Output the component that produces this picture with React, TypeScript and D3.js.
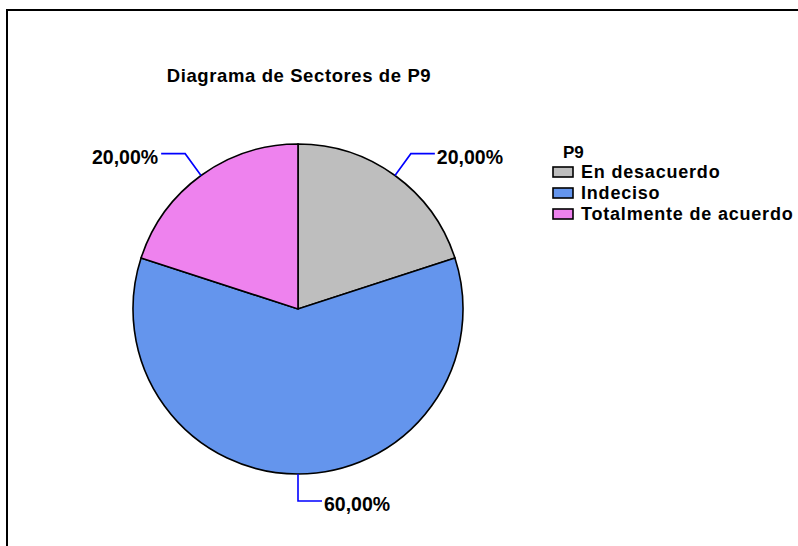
import React from "react";
import * as d3 from "d3";

const categories = ["En desacuerdo", "Indeciso", "Totalmente de acuerdo"];
const values = [20, 60, 20];
const colors = ["#bebebe", "#6495ed", "#ee82ee"];
const title = "Diagrama de Sectores de P9";
const legendTitle = "P9";

const W = 798;
const H = 546;

export default function App() {
  const cx = 298;
  const cy = 309;
  const r = 165;
  const total = d3.sum(values);
  const pie = d3.pie<number>().sort(null).value((d) => d);
  const arcs = pie(values);
  const arcGen = d3.arc<d3.PieArcDatum<number>>().innerRadius(0).outerRadius(r);
  const fmt = (v: number) => d3.format(".2f")((v / total) * 100).replace(".", ",") + "%";
  const font = "Arial, 'Liberation Sans', Helvetica, sans-serif";

  return (
    <svg
      width={W}
      height={H}
      style={{ position: "absolute", left: 0, top: 0 }}
      fontFamily={font}
    >
      <rect x={0} y={0} width={W} height={H} fill="#fff" />
      <rect x={7} y={10} width={W + 20} height={H + 20} fill="none" stroke="#000" strokeWidth={2} />
      <text x={299} y={82} textAnchor="middle" fontWeight="bold" fontSize={18.5} letterSpacing={0.6}>
        {title}
      </text>
      <g transform={`translate(${cx},${cy})`}>
        {arcs.map((a, i) => (
          <path key={i} d={arcGen(a) || ""} fill={colors[i]} stroke="#000" strokeWidth={1.6} />
        ))}
        {arcs.map((a, i) => {
          const mid = (a.startAngle + a.endAngle) / 2;
          const sx = r * Math.sin(mid);
          const sy = -r * Math.cos(mid);
          const ex = 192 * Math.sin(mid);
          const ey = -192 * Math.cos(mid);
          const right = Math.sin(mid) > -1e-6;
          const hx = ex + (right ? 24 : -24);
          return (
            <g key={"l" + i}>
              <polyline
                points={`${sx},${sy} ${ex},${ey} ${hx},${ey}`}
                fill="none"
                stroke="#0000ff"
                strokeWidth={1.6}
              />
              <text
                x={right ? hx + 2 : hx - 3}
                y={ey + 10}
                textAnchor={right ? "start" : "end"}
                fontWeight="bold"
                fontSize={19.5}
              >
                {fmt(values[i])}
              </text>
            </g>
          );
        })}
      </g>
      <text x={563} y={158} fontWeight="bold" fontSize={17}>
        {legendTitle}
      </text>
      {categories.map((c, i) => (
        <g key={c} transform={`translate(553,${167 + i * 21})`}>
          <rect x={0} y={0} width={20} height={10} fill={colors[i]} stroke="#000" strokeWidth={1.6} />
          <text x={28} y={11} fontWeight="bold" fontSize={18} letterSpacing={0.8}>
            {c}
          </text>
        </g>
      ))}
    </svg>
  );
}
